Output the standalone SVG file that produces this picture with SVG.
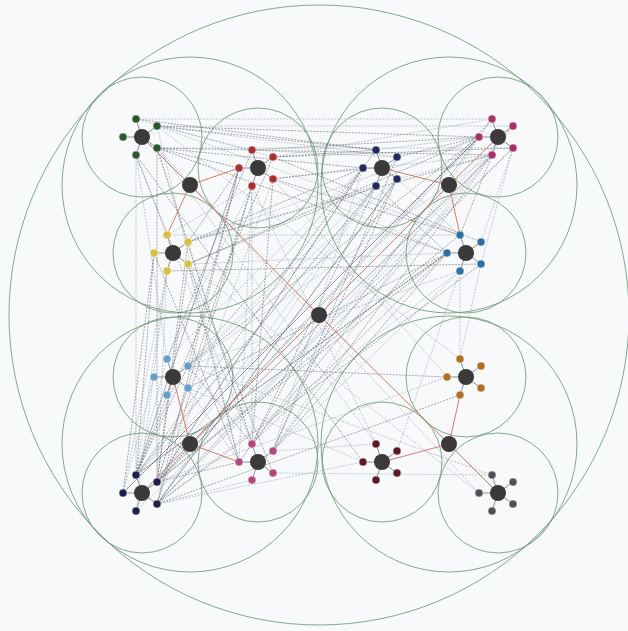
<svg xmlns="http://www.w3.org/2000/svg" width="628" height="631" viewBox="0 0 628 631">
<style>
.bg{fill:#f8f9fa}
.ring{fill:none;stroke:#6f9a78;stroke-width:0.85}
.e1{stroke:#4a4c52;stroke-width:0.6;stroke-dasharray:2 1.2;opacity:0.8}
.e2{stroke:#8894aa;stroke-width:0.6;stroke-dasharray:2 1.2;opacity:0.8}
.s{stroke:#8a92a0;stroke-width:1}
.r{stroke:#cc6f5e;stroke-width:0.9}
.hub{fill:#3b3939}
.sat{stroke:#ffffff;stroke-opacity:0.45;stroke-width:1}
.cA{fill:#2d5530}.cB{fill:#a83030}.cC{fill:#d8c040}.cD{fill:#1f2a5a}
.cE{fill:#a8306a}.cF{fill:#2f6f9f}.cG{fill:#6a9cc8}.cH{fill:#1e1e4a}
.cI{fill:#b04a78}.cJ{fill:#b07020}.cK{fill:#5a1a2a}.cL{fill:#505055}
</style>
<rect class="bg" x="0" y="0" width="628" height="631"/>
<g id="rings">
<circle class="ring" cx="319" cy="315" r="310"/>
<circle class="ring" cx="190" cy="185" r="128"/>
<circle class="ring" cx="449" cy="185" r="128"/>
<circle class="ring" cx="190" cy="444" r="128"/>
<circle class="ring" cx="449" cy="444" r="128"/>
<circle class="ring" cx="142" cy="137" r="60"/>
<circle class="ring" cx="258" cy="168" r="60"/>
<circle class="ring" cx="173" cy="253" r="60"/>
<circle class="ring" cx="382" cy="168" r="60"/>
<circle class="ring" cx="498" cy="137" r="60"/>
<circle class="ring" cx="466" cy="253" r="60"/>
<circle class="ring" cx="173" cy="377" r="60"/>
<circle class="ring" cx="142" cy="493" r="60"/>
<circle class="ring" cx="258" cy="462" r="60"/>
<circle class="ring" cx="466" cy="377" r="60"/>
<circle class="ring" cx="382" cy="462" r="60"/>
<circle class="ring" cx="498" cy="493" r="60"/>
</g>
<g id="connectors">
<line class="e2" x1="136" y1="119" x2="492" y2="119"/>
<line class="e1" x1="157" y1="126" x2="479" y2="137"/>
<line class="e2" x1="157" y1="148" x2="513" y2="148"/>
<line class="e1" x1="157" y1="126" x2="376" y2="150"/>
<line class="e1" x1="157" y1="148" x2="363" y2="168"/>
<line class="e2" x1="157" y1="126" x2="252" y2="150"/>
<line class="e1" x1="157" y1="148" x2="239" y2="168"/>
<line class="e2" x1="136" y1="119" x2="273" y2="157"/>
<line class="e2" x1="157" y1="126" x2="397" y2="157"/>
<line class="e1" x1="157" y1="148" x2="492" y2="155"/>
<line class="e1" x1="136" y1="119" x2="376" y2="150"/>
<line class="e2" x1="157" y1="126" x2="513" y2="126"/>
<line class="e1" x1="252" y1="150" x2="479" y2="137"/>
<line class="e2" x1="273" y1="157" x2="492" y2="119"/>
<line class="e1" x1="273" y1="157" x2="376" y2="150"/>
<line class="e2" x1="273" y1="179" x2="492" y2="155"/>
<line class="e2" x1="252" y1="150" x2="397" y2="157"/>
<line class="e1" x1="273" y1="179" x2="363" y2="168"/>
<line class="e1" x1="273" y1="157" x2="513" y2="148"/>
<line class="e1" x1="397" y1="157" x2="479" y2="137"/>
<line class="e2" x1="376" y1="150" x2="479" y2="137"/>
<line class="e2" x1="397" y1="179" x2="492" y2="155"/>
<line class="e2" x1="136" y1="155" x2="136" y2="475"/>
<line class="e1" x1="157" y1="148" x2="157" y2="482"/>
<line class="e1" x1="157" y1="148" x2="252" y2="444"/>
<line class="e2" x1="157" y1="126" x2="239" y2="462"/>
<line class="e2" x1="157" y1="148" x2="188" y2="242"/>
<line class="e1" x1="136" y1="155" x2="167" y2="235"/>
<line class="e2" x1="136" y1="155" x2="167" y2="359"/>
<line class="e1" x1="157" y1="148" x2="447" y2="253"/>
<line class="e2" x1="157" y1="126" x2="460" y2="235"/>
<line class="e2" x1="157" y1="148" x2="376" y2="444"/>
<line class="e1" x1="136" y1="155" x2="363" y2="462"/>
<line class="e2" x1="157" y1="148" x2="479" y2="493"/>
<line class="e2" x1="157" y1="126" x2="460" y2="359"/>
<line class="e1" x1="239" y1="168" x2="188" y2="242"/>
<line class="e2" x1="252" y1="186" x2="167" y2="235"/>
<line class="e1" x1="239" y1="168" x2="188" y2="366"/>
<line class="e2" x1="252" y1="186" x2="167" y2="359"/>
<line class="e1" x1="252" y1="186" x2="157" y2="482"/>
<line class="e2" x1="239" y1="168" x2="136" y2="475"/>
<line class="e1" x1="273" y1="179" x2="252" y2="444"/>
<line class="e2" x1="252" y1="186" x2="239" y2="462"/>
<line class="e2" x1="273" y1="179" x2="447" y2="253"/>
<line class="e1" x1="273" y1="179" x2="460" y2="235"/>
<line class="e1" x1="239" y1="168" x2="157" y2="504"/>
<line class="e2" x1="252" y1="186" x2="376" y2="444"/>
<line class="e2" x1="273" y1="179" x2="447" y2="377"/>
<line class="e1" x1="273" y1="157" x2="481" y2="242"/>
<line class="e1" x1="154" y1="253" x2="123" y2="493"/>
<line class="e2" x1="167" y1="271" x2="136" y2="475"/>
<line class="e1" x1="188" y1="264" x2="157" y2="482"/>
<line class="e2" x1="167" y1="271" x2="136" y2="511"/>
<line class="e1" x1="188" y1="264" x2="239" y2="462"/>
<line class="e2" x1="188" y1="242" x2="252" y2="444"/>
<line class="e1" x1="188" y1="264" x2="273" y2="473"/>
<line class="e1" x1="188" y1="242" x2="363" y2="168"/>
<line class="e2" x1="188" y1="242" x2="376" y2="186"/>
<line class="e1" x1="188" y1="264" x2="376" y2="186"/>
<line class="e2" x1="188" y1="242" x2="479" y2="137"/>
<line class="e2" x1="188" y1="264" x2="447" y2="253"/>
<line class="e2" x1="167" y1="235" x2="460" y2="235"/>
<line class="e1" x1="167" y1="271" x2="481" y2="264"/>
<line class="e2" x1="188" y1="264" x2="479" y2="493"/>
<line class="e1" x1="188" y1="242" x2="492" y2="155"/>
<line class="e1" x1="363" y1="168" x2="188" y2="366"/>
<line class="e2" x1="376" y1="186" x2="188" y2="366"/>
<line class="e1" x1="363" y1="168" x2="157" y2="482"/>
<line class="e2" x1="376" y1="186" x2="157" y2="504"/>
<line class="e1" x1="397" y1="179" x2="157" y2="504"/>
<line class="e1" x1="376" y1="186" x2="252" y2="444"/>
<line class="e2" x1="363" y1="168" x2="273" y2="451"/>
<line class="e1" x1="397" y1="179" x2="273" y2="451"/>
<line class="e2" x1="397" y1="179" x2="460" y2="235"/>
<line class="e1" x1="376" y1="186" x2="447" y2="253"/>
<line class="e2" x1="363" y1="168" x2="167" y2="359"/>
<line class="e1" x1="376" y1="186" x2="136" y2="475"/>
<line class="e1" x1="479" y1="137" x2="157" y2="482"/>
<line class="e2" x1="492" y1="155" x2="157" y2="504"/>
<line class="e1" x1="513" y1="148" x2="157" y2="504"/>
<line class="e2" x1="479" y1="137" x2="136" y2="475"/>
<line class="e1" x1="492" y1="155" x2="273" y2="451"/>
<line class="e2" x1="492" y1="155" x2="188" y2="366"/>
<line class="e1" x1="479" y1="137" x2="188" y2="366"/>
<line class="e2" x1="513" y1="148" x2="481" y2="242"/>
<line class="e1" x1="492" y1="155" x2="460" y2="235"/>
<line class="e2" x1="513" y1="148" x2="481" y2="264"/>
<line class="e2" x1="492" y1="155" x2="252" y2="444"/>
<line class="e1" x1="479" y1="137" x2="188" y2="264"/>
<line class="e1" x1="479" y1="137" x2="123" y2="493"/>
<line class="e2" x1="492" y1="155" x2="157" y2="482"/>
<line class="e1" x1="447" y1="253" x2="157" y2="482"/>
<line class="e2" x1="460" y1="271" x2="157" y2="504"/>
<line class="e1" x1="447" y1="253" x2="188" y2="388"/>
<line class="e2" x1="460" y1="271" x2="273" y2="451"/>
<line class="e1" x1="447" y1="253" x2="252" y2="444"/>
<line class="e2" x1="481" y1="264" x2="460" y2="359"/>
<line class="e2" x1="460" y1="271" x2="188" y2="366"/>
<line class="e1" x1="447" y1="253" x2="136" y2="475"/>
<line class="e1" x1="188" y1="366" x2="136" y2="475"/>
<line class="e2" x1="188" y1="388" x2="157" y2="482"/>
<line class="e1" x1="167" y1="395" x2="136" y2="475"/>
<line class="e2" x1="154" y1="377" x2="123" y2="493"/>
<line class="e1" x1="188" y1="366" x2="252" y2="444"/>
<line class="e2" x1="188" y1="388" x2="239" y2="462"/>
<line class="e2" x1="188" y1="388" x2="363" y2="462"/>
<line class="e1" x1="188" y1="366" x2="447" y2="377"/>
<line class="e1" x1="167" y1="359" x2="252" y2="150"/>
<line class="e2" x1="188" y1="366" x2="397" y2="179"/>
<line class="e1" x1="157" y1="482" x2="239" y2="462"/>
<line class="e2" x1="157" y1="504" x2="252" y2="480"/>
<line class="e2" x1="157" y1="482" x2="447" y2="377"/>
<line class="e1" x1="157" y1="504" x2="460" y2="395"/>
<line class="e2" x1="157" y1="504" x2="363" y2="462"/>
<line class="e1" x1="157" y1="482" x2="460" y2="235"/>
<line class="e1" x1="157" y1="482" x2="492" y2="119"/>
<line class="e2" x1="157" y1="504" x2="513" y2="126"/>
<line class="e2" x1="157" y1="482" x2="397" y2="157"/>
<line class="e1" x1="136" y1="475" x2="273" y2="157"/>
<line class="e2" x1="157" y1="504" x2="273" y2="179"/>
<line class="e1" x1="157" y1="482" x2="188" y2="242"/>
<line class="e2" x1="136" y1="475" x2="167" y2="359"/>
<line class="e1" x1="157" y1="504" x2="481" y2="264"/>
<line class="e1" x1="123" y1="493" x2="479" y2="137"/>
<line class="e1" x1="136" y1="475" x2="376" y2="150"/>
<line class="e1" x1="157" y1="482" x2="492" y2="155"/>
<line class="e1" x1="157" y1="504" x2="397" y2="179"/>
<line class="e2" x1="136" y1="511" x2="513" y2="148"/>
<line class="e1" x1="136" y1="475" x2="447" y2="253"/>
<line class="e2" x1="123" y1="493" x2="376" y2="186"/>
<line class="e1" x1="157" y1="482" x2="363" y2="168"/>
<line class="e1" x1="136" y1="475" x2="239" y2="168"/>
<line class="e1" x1="157" y1="504" x2="252" y2="186"/>
<line class="e2" x1="123" y1="493" x2="167" y2="271"/>
<line class="e1" x1="136" y1="475" x2="154" y2="253"/>
<line class="e2" x1="157" y1="482" x2="167" y2="271"/>
<line class="e1" x1="239" y1="462" x2="492" y2="119"/>
<line class="e2" x1="252" y1="444" x2="513" y2="126"/>
<line class="e1" x1="273" y1="451" x2="397" y2="157"/>
<line class="e2" x1="252" y1="444" x2="252" y2="186"/>
<line class="e1" x1="273" y1="451" x2="447" y2="253"/>
<line class="e2" x1="273" y1="451" x2="376" y2="444"/>
<line class="e2" x1="273" y1="473" x2="492" y2="475"/>
<line class="e1" x1="252" y1="444" x2="397" y2="179"/>
<line class="e2" x1="273" y1="451" x2="479" y2="137"/>
<line class="e1" x1="239" y1="462" x2="154" y2="253"/>
<line class="e2" x1="252" y1="444" x2="136" y2="155"/>
<line class="e2" x1="460" y1="359" x2="460" y2="271"/>
<line class="e2" x1="397" y1="451" x2="460" y2="271"/>
<line class="e2" x1="492" y1="475" x2="188" y2="366"/>
<path class="s" fill="none" d="M142 137L123 137M142 137L136 119M142 137L157 126M142 137L157 148M142 137L136 155
M258 168L239 168M258 168L252 150M258 168L273 157M258 168L273 179M258 168L252 186
M173 253L154 253M173 253L167 235M173 253L188 242M173 253L188 264M173 253L167 271
M382 168L363 168M382 168L376 150M382 168L397 157M382 168L397 179M382 168L376 186
M498 137L479 137M498 137L492 119M498 137L513 126M498 137L513 148M498 137L492 155
M466 253L447 253M466 253L460 235M466 253L481 242M466 253L481 264M466 253L460 271
M173 377L154 377M173 377L167 359M173 377L188 366M173 377L188 388M173 377L167 395
M142 493L123 493M142 493L136 475M142 493L157 482M142 493L157 504M142 493L136 511
M258 462L239 462M258 462L252 444M258 462L273 451M258 462L273 473M258 462L252 480
M466 377L447 377M466 377L460 359M466 377L481 366M466 377L481 388M466 377L460 395
M382 462L363 462M382 462L376 444M382 462L397 451M382 462L397 473M382 462L376 480
M498 493L479 493M498 493L492 475M498 493L513 482M498 493L513 504M498 493L492 511"/>
<line class="r" x1="319" y1="315" x2="190" y2="185"/>
<line class="r" x1="319" y1="315" x2="449" y2="185"/>
<line class="r" x1="319" y1="315" x2="190" y2="444"/>
<line class="r" x1="319" y1="315" x2="449" y2="444"/>
<line class="r" x1="190" y1="185" x2="142" y2="137"/>
<line class="r" x1="190" y1="185" x2="239" y2="168"/>
<line class="r" x1="190" y1="185" x2="167" y2="235"/>
<line class="r" x1="449" y1="185" x2="382" y2="168"/>
<line class="r" x1="449" y1="185" x2="498" y2="137"/>
<line class="r" x1="449" y1="185" x2="460" y2="235"/>
<line class="r" x1="190" y1="444" x2="173" y2="377"/>
<line class="r" x1="190" y1="444" x2="142" y2="493"/>
<line class="r" x1="190" y1="444" x2="239" y2="462"/>
<line class="r" x1="449" y1="444" x2="460" y2="395"/>
<line class="r" x1="449" y1="444" x2="382" y2="462"/>
<line class="r" x1="449" y1="444" x2="498" y2="493"/>
</g>
<g id="nodes">
<g id="root"><circle class="hub" cx="319" cy="315" r="8"/></g>
<g id="q1"><circle class="hub" cx="190" cy="185" r="8"/></g>
<g id="q2"><circle class="hub" cx="449" cy="185" r="8"/></g>
<g id="q3"><circle class="hub" cx="190" cy="444" r="8"/></g>
<g id="q4"><circle class="hub" cx="449" cy="444" r="8"/></g>
<g id="A"><circle class="hub" cx="142" cy="137" r="8"/></g>
<g id="A0"><circle class="sat cA" cx="123" cy="137" r="4"/></g>
<g id="A1"><circle class="sat cA" cx="136" cy="119" r="4"/></g>
<g id="A2"><circle class="sat cA" cx="157" cy="126" r="4"/></g>
<g id="A3"><circle class="sat cA" cx="157" cy="148" r="4"/></g>
<g id="A4"><circle class="sat cA" cx="136" cy="155" r="4"/></g>
<g id="B"><circle class="hub" cx="258" cy="168" r="8"/></g>
<g id="B0"><circle class="sat cB" cx="239" cy="168" r="4"/></g>
<g id="B1"><circle class="sat cB" cx="252" cy="150" r="4"/></g>
<g id="B2"><circle class="sat cB" cx="273" cy="157" r="4"/></g>
<g id="B3"><circle class="sat cB" cx="273" cy="179" r="4"/></g>
<g id="B4"><circle class="sat cB" cx="252" cy="186" r="4"/></g>
<g id="C"><circle class="hub" cx="173" cy="253" r="8"/></g>
<g id="C0"><circle class="sat cC" cx="154" cy="253" r="4"/></g>
<g id="C1"><circle class="sat cC" cx="167" cy="235" r="4"/></g>
<g id="C2"><circle class="sat cC" cx="188" cy="242" r="4"/></g>
<g id="C3"><circle class="sat cC" cx="188" cy="264" r="4"/></g>
<g id="C4"><circle class="sat cC" cx="167" cy="271" r="4"/></g>
<g id="D"><circle class="hub" cx="382" cy="168" r="8"/></g>
<g id="D0"><circle class="sat cD" cx="363" cy="168" r="4"/></g>
<g id="D1"><circle class="sat cD" cx="376" cy="150" r="4"/></g>
<g id="D2"><circle class="sat cD" cx="397" cy="157" r="4"/></g>
<g id="D3"><circle class="sat cD" cx="397" cy="179" r="4"/></g>
<g id="D4"><circle class="sat cD" cx="376" cy="186" r="4"/></g>
<g id="E"><circle class="hub" cx="498" cy="137" r="8"/></g>
<g id="E0"><circle class="sat cE" cx="479" cy="137" r="4"/></g>
<g id="E1"><circle class="sat cE" cx="492" cy="119" r="4"/></g>
<g id="E2"><circle class="sat cE" cx="513" cy="126" r="4"/></g>
<g id="E3"><circle class="sat cE" cx="513" cy="148" r="4"/></g>
<g id="E4"><circle class="sat cE" cx="492" cy="155" r="4"/></g>
<g id="F"><circle class="hub" cx="466" cy="253" r="8"/></g>
<g id="F0"><circle class="sat cF" cx="447" cy="253" r="4"/></g>
<g id="F1"><circle class="sat cF" cx="460" cy="235" r="4"/></g>
<g id="F2"><circle class="sat cF" cx="481" cy="242" r="4"/></g>
<g id="F3"><circle class="sat cF" cx="481" cy="264" r="4"/></g>
<g id="F4"><circle class="sat cF" cx="460" cy="271" r="4"/></g>
<g id="G"><circle class="hub" cx="173" cy="377" r="8"/></g>
<g id="G0"><circle class="sat cG" cx="154" cy="377" r="4"/></g>
<g id="G1"><circle class="sat cG" cx="167" cy="359" r="4"/></g>
<g id="G2"><circle class="sat cG" cx="188" cy="366" r="4"/></g>
<g id="G3"><circle class="sat cG" cx="188" cy="388" r="4"/></g>
<g id="G4"><circle class="sat cG" cx="167" cy="395" r="4"/></g>
<g id="H"><circle class="hub" cx="142" cy="493" r="8"/></g>
<g id="H0"><circle class="sat cH" cx="123" cy="493" r="4"/></g>
<g id="H1"><circle class="sat cH" cx="136" cy="475" r="4"/></g>
<g id="H2"><circle class="sat cH" cx="157" cy="482" r="4"/></g>
<g id="H3"><circle class="sat cH" cx="157" cy="504" r="4"/></g>
<g id="H4"><circle class="sat cH" cx="136" cy="511" r="4"/></g>
<g id="I"><circle class="hub" cx="258" cy="462" r="8"/></g>
<g id="I0"><circle class="sat cI" cx="239" cy="462" r="4"/></g>
<g id="I1"><circle class="sat cI" cx="252" cy="444" r="4"/></g>
<g id="I2"><circle class="sat cI" cx="273" cy="451" r="4"/></g>
<g id="I3"><circle class="sat cI" cx="273" cy="473" r="4"/></g>
<g id="I4"><circle class="sat cI" cx="252" cy="480" r="4"/></g>
<g id="J"><circle class="hub" cx="466" cy="377" r="8"/></g>
<g id="J0"><circle class="sat cJ" cx="447" cy="377" r="4"/></g>
<g id="J1"><circle class="sat cJ" cx="460" cy="359" r="4"/></g>
<g id="J2"><circle class="sat cJ" cx="481" cy="366" r="4"/></g>
<g id="J3"><circle class="sat cJ" cx="481" cy="388" r="4"/></g>
<g id="J4"><circle class="sat cJ" cx="460" cy="395" r="4"/></g>
<g id="K"><circle class="hub" cx="382" cy="462" r="8"/></g>
<g id="K0"><circle class="sat cK" cx="363" cy="462" r="4"/></g>
<g id="K1"><circle class="sat cK" cx="376" cy="444" r="4"/></g>
<g id="K2"><circle class="sat cK" cx="397" cy="451" r="4"/></g>
<g id="K3"><circle class="sat cK" cx="397" cy="473" r="4"/></g>
<g id="K4"><circle class="sat cK" cx="376" cy="480" r="4"/></g>
<g id="L"><circle class="hub" cx="498" cy="493" r="8"/></g>
<g id="L0"><circle class="sat cL" cx="479" cy="493" r="4"/></g>
<g id="L1"><circle class="sat cL" cx="492" cy="475" r="4"/></g>
<g id="L2"><circle class="sat cL" cx="513" cy="482" r="4"/></g>
<g id="L3"><circle class="sat cL" cx="513" cy="504" r="4"/></g>
<g id="L4"><circle class="sat cL" cx="492" cy="511" r="4"/></g>
</g>
</svg>
